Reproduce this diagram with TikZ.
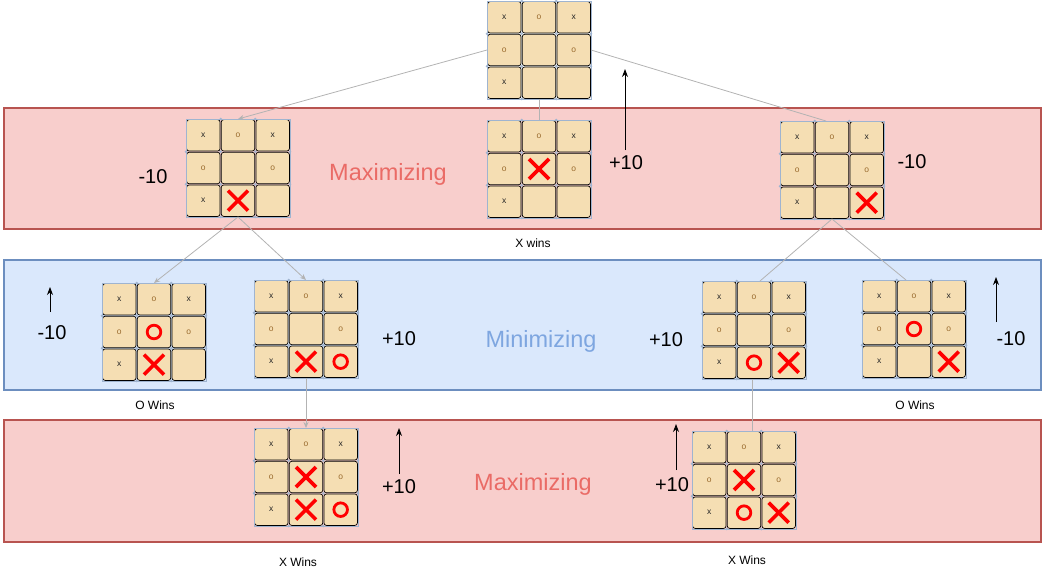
\documentclass[tikz,border=0pt]{standalone}
\usepackage{fontspec}
\setmainfont{Liberation Sans}
\usetikzlibrary{arrows.meta}
\definecolor{cellfill}{HTML}{F5DEB3}
\definecolor{gridblue}{HTML}{9FB4D0}
\definecolor{maxfill}{HTML}{F8CECC}
\definecolor{maxline}{HTML}{B85450}
\definecolor{minfill}{HTML}{DAE8FC}
\definecolor{minline}{HTML}{6C8EBF}
\definecolor{maxtext}{HTML}{EA6B66}
\definecolor{mintext}{HTML}{7EA6E0}
\definecolor{edgegray}{HTML}{B3B3B3}
\definecolor{markred}{HTML}{FF0000}
\definecolor{smallocol}{HTML}{9A6B2E}

\tikzset{
  boardbox/.style={rectangle, minimum width=104pt, minimum height=98pt, inner sep=0pt, outer sep=0pt},
  cellbox/.style={draw=black, fill=cellfill, line width=0.7pt, rounded corners=2.5pt},
  smallx/.style={text=black!85, font=\fontsize{8.5}{8.5}\selectfont, inner sep=0pt},
  smallo/.style={text=smallocol, font=\fontsize{8.5}{8.5}\selectfont, inner sep=0pt},
  markx/.style={draw=markred, line width=3.6pt},
  marko/.style={draw=markred, line width=2.8pt},
  band/.style={rectangle, minimum width=1037pt, inner sep=0pt, line width=2.8pt},
  maxband/.style={band, fill=maxfill, draw=maxline},
  minband/.style={band, fill=minfill, draw=minline},
  bandtext/.style={font=\fontsize{23.5}{23.5}\selectfont, inner sep=0pt},
  valtext/.style={font=\fontsize{20}{20}\selectfont, inner sep=0pt},
  wintext/.style={font=\fontsize{12}{12}\selectfont, inner sep=0pt},
  edge/.style={draw=edgegray, line width=0.8pt},
  edgearrow/.style={edge, -{Stealth[length=6pt,width=5pt]}},
  valarrow/.style={draw=black, line width=0.9pt, -{Stealth[length=8pt,width=6pt]}},
}

\newcommand\tttboard[3]{%
  \node[boardbox] (#1) at ({#2+52},{#3+49}) {};
  \foreach \r in {0,1,2}{\foreach \c in {0,1,2}{
    \draw[cellbox] ({#2+\c*34.667+0.6},{#3+\r*32.667+0.6}) rectangle ({#2+(\c+1)*34.667-0.6},{#3+(\r+1)*32.667-0.6});
  }}
  \draw[gridblue, line width=0.6pt] (#2,#3) rectangle ({#2+104},{#3+98});
  \foreach \c in {1,2}{\foreach \r in {0,1,2,3}{
    \fill[gridblue] ({#2+\c*34.667},{#3+\r*32.667}) circle (1.4pt);
  }}
  \foreach \c in {0,3}{\foreach \r in {1,2}{
    \fill[gridblue] ({#2+\c*34.667},{#3+\r*32.667}) circle (1.4pt);
  }}
  \foreach \r/\c in {0/0,0/2,2/0}{
    \node[smallx] at ({#2+(\c+0.5)*34.667},{#3+(\r+0.5)*32.667}) {x};
  }
  \foreach \r/\c in {0/1,1/0,1/2}{
    \node[smallo] at ({#2+(\c+0.5)*34.667},{#3+(\r+0.5)*32.667}) {o};
  }
}
\newcommand\bigX[3]{%
  \draw[markx] ([shift={({#3*34.667+17.33-10},{#2*32.667+16.33-10})}]#1.north west) -- ++(20,20);
  \draw[markx] ([shift={({#3*34.667+17.33+10},{#2*32.667+16.33-10})}]#1.north west) -- ++(-20,20);
}
\newcommand\bigO[3]{%
  \draw[marko] ([shift={({#3*34.667+17.33},{#2*32.667+16.33})}]#1.north west) circle (6.8pt);
}

\begin{document}
\begin{tikzpicture}[x=1pt,y=-1pt]
\useasboundingbox (0,0) rectangle (1044,573);

% bands
\node[maxband, minimum height=121pt] (band1) at (522.5,168.5) {};
\node[minband, minimum height=130pt] (band2) at (522.5,325) {};
\node[maxband, minimum height=122pt] (band3) at (522.5,481) {};

\node[bandtext, text=maxtext] (lmax1) at (388,174) {Maximizing};
\node[bandtext, text=mintext] (lmin) at (541,341) {Minimizing};
\node[bandtext, text=maxtext] (lmax2) at (533,484) {Maximizing};

% boards
\tttboard{T}{487}{1}
\tttboard{ML}{186}{119}
\tttboard{MM}{487}{120}
\tttboard{MR}{780}{121}
\tttboard{NA}{102}{283}
\tttboard{NB}{254}{280}
\tttboard{NC}{702}{281}
\tttboard{ND}{862}{280}
\tttboard{BE}{254}{428}
\tttboard{BF}{692}{431}

\bigX{ML}{2}{1}
\bigX{MM}{1}{1}
\bigX{MR}{2}{2}
\bigO{NA}{1}{1}\bigX{NA}{2}{1}
\bigX{NB}{2}{1}\bigO{NB}{2}{2}
\bigO{NC}{2}{1}\bigX{NC}{2}{2}
\bigO{ND}{1}{1}\bigX{ND}{2}{2}
\bigX{BE}{1}{1}\bigX{BE}{2}{1}\bigO{BE}{2}{2}
\bigX{BF}{1}{1}\bigO{BF}{2}{1}\bigX{BF}{2}{2}

% tree connectors
\draw[edgearrow] (T.west) -- (ML.north);
\draw[edge] (T.south) -- (MM.north);
\draw[edge] (T.east) -- ([xshift=-6pt]MR.north);
\draw[edgearrow] (ML.south) -- (NA.north);
\draw[edgearrow] (ML.south) -- (NB.north);
\draw[edge] (MR.south) -- ([xshift=6pt]NC.north);
\draw[edge] (MR.south) -- ([xshift=-8pt]ND.north);
\draw[edgearrow] (NB.south) -- (BE.north);
\draw[edge] ([xshift=-2pt]NC.south) -- ([xshift=-2pt]NC.south |- BF.north);

% values
\node[valtext] (v1) at (153,177) {-10};
\node[valtext] (v2) at (626,163) {+10};
\node[valtext] (v3) at (912,162) {-10};
\node[valtext] (v4) at (52,333) {-10};
\node[valtext] (v5) at (399,339) {+10};
\node[valtext] (v6) at (666,340) {+10};
\node[valtext] (v7) at (1011,339) {-10};
\node[valtext] (v8) at (399,487) {+10};
\node[valtext] (v9) at (672,485) {+10};

\coordinate (a2s) at (625,150); \coordinate (a2e) at (625,69);
\coordinate (a4s) at (50,312);  \coordinate (a4e) at (50,287);
\coordinate (a7s) at (996,322); \coordinate (a7e) at (996,277);
\coordinate (a8s) at (399,474); \coordinate (a8e) at (399,428);
\coordinate (a9s) at (676,470); \coordinate (a9e) at (676,424);
\draw[valarrow] (a2s) -- (a2e);
\draw[valarrow] (a4s) -- (a4e);
\draw[valarrow] (a7s) -- (a7e);
\draw[valarrow] (a8s) -- (a8e);
\draw[valarrow] (a9s) -- (a9e);

% outcome labels
\node[wintext] (w1) at (533,243) {X wins};
\node[wintext] (w2) at (155,405) {O Wins};
\node[wintext] (w3) at (915,405) {O Wins};
\node[wintext] (w4) at (298,562) {X Wins};
\node[wintext] (w5) at (747,560) {X Wins};
\end{tikzpicture}
\end{document}
